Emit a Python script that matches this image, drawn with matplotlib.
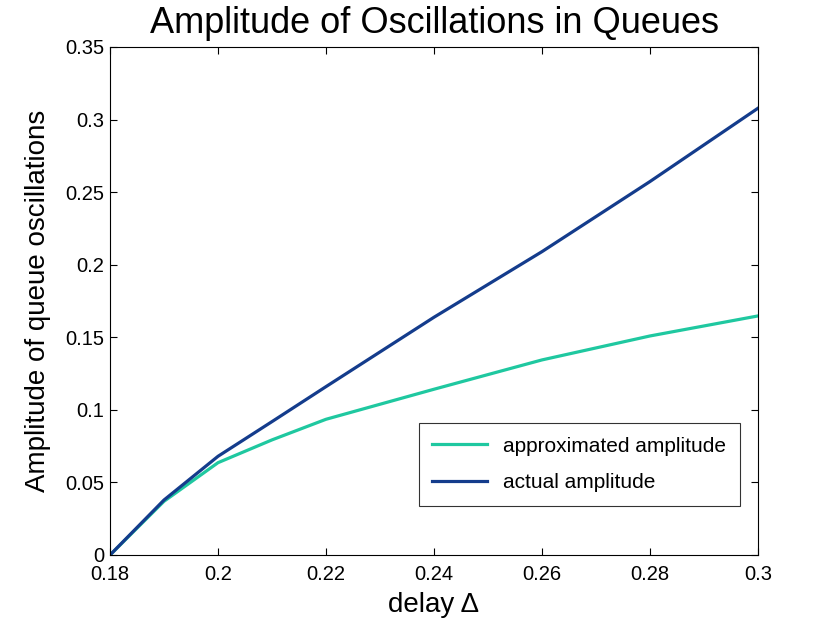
import matplotlib
matplotlib.use("Agg")
import matplotlib.pyplot as plt
from matplotlib.ticker import FormatStrFormatter, MultipleLocator

plt.rcParams['font.family'] = ['Liberation Sans', 'DejaVu Sans']

# values
delay = [0.18, 0.19, 0.20, 0.21, 0.22, 0.24, 0.26, 0.28, 0.30]
approx_amp = [0.0, 0.037, 0.0636, 0.0793, 0.0935, 0.1142, 0.1344, 0.1509, 0.1647]
actual_amp = [0.0, 0.0379, 0.068, 0.0919, 0.116, 0.1638, 0.209, 0.2573, 0.3078]

fig = plt.figure(figsize=(8.38, 6.24), dpi=100)
ax = fig.add_axes([0.1313, 0.1106, 0.7732, 0.8141])

ax.plot(delay, approx_amp, color='#1fc8a0', lw=2.3, label='approximated amplitude')
ax.plot(delay, actual_amp, color='#143c8c', lw=2.3, label='actual amplitude')

ax.set_xlim(0.18, 0.30)
ax.set_ylim(0, 0.35)
ax.xaxis.set_major_locator(MultipleLocator(0.02))
ax.yaxis.set_major_locator(MultipleLocator(0.05))
ax.xaxis.set_major_formatter(FormatStrFormatter('%g'))
ax.yaxis.set_major_formatter(FormatStrFormatter('%g'))
ax.tick_params(direction='in', length=5, width=0.8, top=True, right=True,
               labelsize=14.5, pad=4)
ax.tick_params(axis='x', pad=7)
for s in ax.spines.values():
    s.set_linewidth(0.8)

ax.set_title('Amplitude of Oscillations in Queues', fontsize=26, pad=10)
ax.set_xlabel('delay Δ', fontsize=20, labelpad=6)
ax.set_ylabel('Amplitude of queue oscillations', fontsize=20, labelpad=10)

leg = ax.legend(loc='lower right', bbox_to_anchor=(0.972, 0.0965), fontsize=15,
                frameon=True, fancybox=False, handlelength=2.6, borderpad=0.65,
                labelspacing=0.85, borderaxespad=0)
leg.get_frame().set_edgecolor('black')
leg.get_frame().set_linewidth(0.8)

fig.savefig('out.png', dpi=100)
